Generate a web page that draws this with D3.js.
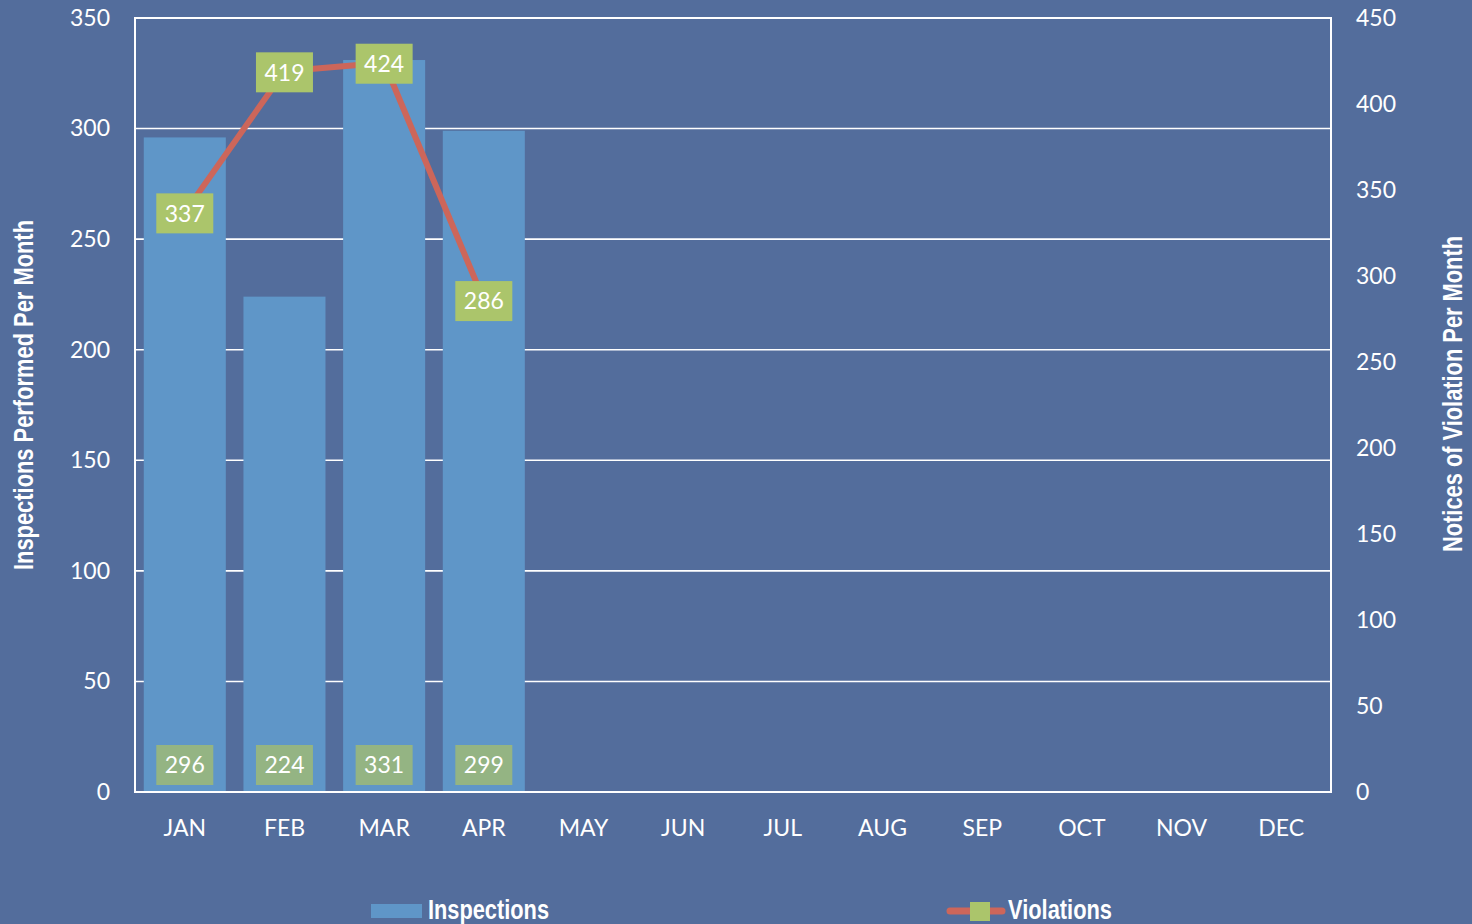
<!DOCTYPE html>
<html>
<head>
<meta charset="utf-8">
<script src="https://cdn.jsdelivr.net/npm/d3@7"></script>
<style>
  html, body { margin: 0; padding: 0; background: #536d9c; overflow: hidden; }
  svg { display: block; }
</style>
</head>
<body>
<svg id="chart" width="1472" height="924"></svg>
<script>
var months = ["JAN", "FEB", "MAR", "APR", "MAY", "JUN", "JUL", "AUG", "SEP", "OCT", "NOV", "DEC"];
var inspections = [296, 224, 331, 299];
var violations = [337, 419, 424, 286];
var leftTicks = [0, 50, 100, 150, 200, 250, 300, 350];
var rightTicks = [0, 50, 100, 150, 200, 250, 300, 350, 400, 450];

var bg = "#536d9c",
    barColor = "#5f96c8",
    lineColor = "#cd665a",
    boxTop = "#abc56b",
    boxBottom = "#94b483",
    numFont = "Lato, 'Open Sans', sans-serif",
    titleFont = "'Liberation Sans', Arial, sans-serif";

var margin = { top: 18, right: 141, bottom: 132, left: 135 },
    width = 1472 - margin.left - margin.right,
    height = 924 - margin.top - margin.bottom;

var svg = d3.select("#chart");
svg.append("rect").attr("width", 1472).attr("height", 924).attr("fill", bg);

var g = svg.append("g")
    .attr("transform", "translate(" + margin.left + "," + margin.top + ")");

var x = d3.scaleBand()
    .domain(months)
    .range([0, width])
    .paddingInner(0.177)
    .paddingOuter(0.088);
var yL = d3.scaleLinear().domain([0, 350]).range([height, 0]);
var yR = d3.scaleLinear().domain([0, 450]).range([height, 0]);

// gridlines
g.selectAll(".grid")
    .data(leftTicks)
    .enter().append("line")
    .attr("class", "grid")
    .attr("x1", 0).attr("x2", width)
    .attr("y1", function (d) { return yL(d); })
    .attr("y2", function (d) { return yL(d); })
    .attr("stroke", "#ffffff")
    .attr("stroke-width", 1.6);

// bars
var barData = inspections.map(function (v, i) { return { m: months[i], v: v }; });
g.selectAll(".bar")
    .data(barData)
    .enter().append("rect")
    .attr("class", "bar")
    .attr("x", function (d) { return x(d.m); })
    .attr("width", x.bandwidth())
    .attr("y", function (d) { return yL(d.v); })
    .attr("height", function (d) { return height - yL(d.v); })
    .attr("fill", barColor);

// frame
g.append("rect")
    .attr("width", width).attr("height", height)
    .attr("fill", "none")
    .attr("stroke", "#ffffff")
    .attr("stroke-width", 2);

// axes
var axisL = g.append("g")
    .call(d3.axisLeft(yL).tickValues(leftTicks).tickSize(0).tickPadding(25));
var axisR = g.append("g")
    .attr("transform", "translate(" + width + ",0)")
    .call(d3.axisRight(yR).tickValues(rightTicks).tickSize(0).tickPadding(25));
var axisB = g.append("g")
    .attr("transform", "translate(0," + height + ")")
    .call(d3.axisBottom(x).tickSize(0).tickPadding(31));
[axisL, axisR, axisB].forEach(function (a) {
    a.select(".domain").remove();
    a.selectAll("text")
        .attr("fill", "#ffffff")
        .style("font-family", numFont)
        .style("font-size", "23px");
});
axisB.selectAll("text").attr("dy", "0.55em");

// violations line
var lineData = violations.map(function (v, i) { return { m: months[i], v: v }; });
var cx = function (d) { return x(d.m) + x.bandwidth() / 2; };
var line = d3.line()
    .x(cx)
    .y(function (d) { return yR(d.v); });
g.append("path")
    .datum(lineData)
    .attr("d", line)
    .attr("fill", "none")
    .attr("stroke", lineColor)
    .attr("stroke-width", 6)
    .attr("stroke-linejoin", "round");

// label boxes
var bw = 57, bh = 40;
function labels(data, ypos, fill) {
    var lg = g.selectAll(null)
        .data(data)
        .enter().append("g")
        .attr("transform", function (d) { return "translate(" + cx(d) + "," + ypos(d) + ")"; });
    lg.append("rect")
        .attr("x", -bw / 2).attr("y", -bh / 2)
        .attr("width", bw).attr("height", bh)
        .attr("fill", fill);
    lg.append("text")
        .attr("text-anchor", "middle")
        .attr("dy", "0.36em")
        .attr("fill", "#ffffff")
        .style("font-family", numFont)
        .style("font-size", "23px")
        .text(function (d) { return d.v; });
}
labels(barData, function () { return height - 27; }, boxBottom);
labels(lineData, function (d) { return yR(d.v) + 1; }, boxTop);

// narrow bold text (no condensed font available, so squeeze it)
function narrow(sel, len) {
    sel.attr("fill", "#ffffff")
        .attr("textLength", len)
        .attr("lengthAdjust", "spacingAndGlyphs")
        .style("font-family", titleFont)
        .style("font-weight", "bold")
        .style("font-size", "27px");
}

// axis titles
svg.append("text")
    .attr("transform", "translate(33,395) rotate(-90)")
    .attr("text-anchor", "middle")
    .call(narrow, 350)
    .text("Inspections Performed Per Month");
svg.append("text")
    .attr("transform", "translate(1462,394) rotate(-90)")
    .attr("text-anchor", "middle")
    .call(narrow, 316)
    .text("Notices of Violation Per Month");

// legend
var leg = svg.append("g");
leg.append("rect")
    .attr("x", 371).attr("y", 904).attr("width", 51).attr("height", 14)
    .attr("fill", barColor);
leg.append("text")
    .attr("x", 428).attr("y", 919)
    .call(narrow, 121)
    .text("Inspections");
leg.append("line")
    .attr("x1", 950).attr("x2", 1002).attr("y1", 911).attr("y2", 911)
    .attr("stroke", lineColor).attr("stroke-width", 7).attr("stroke-linecap", "round");
leg.append("rect")
    .attr("x", 970).attr("y", 902).attr("width", 20).attr("height", 19)
    .attr("fill", boxTop);
leg.append("text")
    .attr("x", 1008).attr("y", 919)
    .call(narrow, 104)
    .text("Violations");
</script>
</body>
</html>
